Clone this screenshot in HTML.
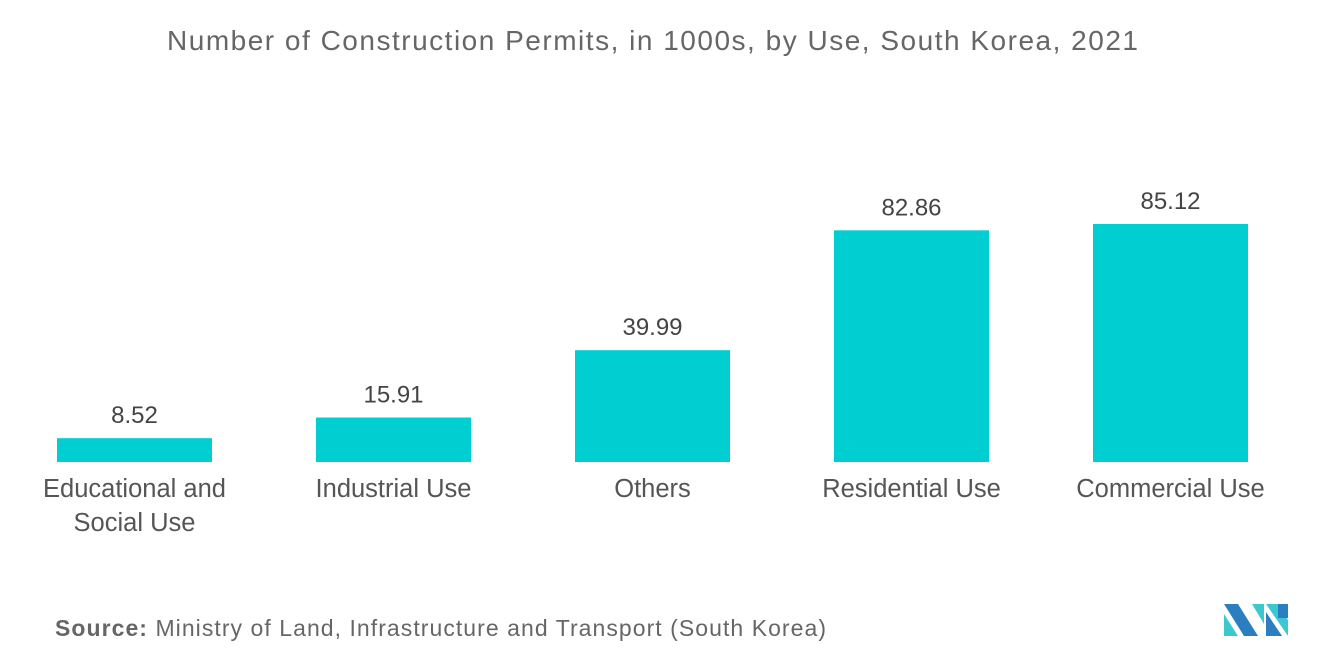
<!DOCTYPE html>
<html><head><meta charset="utf-8">
<style>
body{margin:0;width:1320px;height:665px;background:#fff;font-family:"Liberation Sans",sans-serif;overflow:hidden}
svg text{font-family:"Liberation Sans",sans-serif}
</style></head>
<body>
<svg id="chart" width="1320" height="665">
<text x="167" y="50" font-size="28" fill="#666" textLength="971" lengthAdjust="spacing">Number of Construction Permits, in 1000s, by Use,  South Korea, 2021</text>
<g id="bars"></g>
<text x="55" y="636" font-size="23" fill="#666" textLength="771" lengthAdjust="spacing"><tspan font-weight="bold">Source:</tspan>  Ministry of Land, Infrastructure and Transport (South Korea)</text>
<g>
<polygon points="1224,604 1238,604 1258,636 1244,636" fill="#2b7fc1"/>
<polygon points="1224,614 1238,636 1224,636" fill="#3cc8cf"/>
<polygon points="1252,604 1264,604 1264,624" fill="#3cc8cf"/>
<polygon points="1266,604 1278,604 1288,620 1288,636" fill="#3cc8cf"/>
<polygon points="1266,612 1282,636 1266,636" fill="#2b7fc1"/>
<rect x="1278" y="604" width="10" height="14" fill="#2b7fc1"/>
</g>
</svg>
<script>
const categories=[["Educational and","Social Use"],["Industrial Use"],["Others"],["Residential Use"],["Commercial Use"]];
const values=[8.52,15.91,39.99,82.86,85.12];
const labels=["8.52","15.91","39.99","82.86","85.12"];
const NS="http://www.w3.org/2000/svg";
const g=document.getElementById("bars");
const base=462,scale=2.796,x0=57,step=259,bw=155;
function y(v){return base-v*scale;}
function x(i){return x0+i*step;}
values.forEach((v,i)=>{
  const r=document.createElementNS(NS,"rect");
  r.setAttribute("x",x(i));r.setAttribute("y",y(v));
  r.setAttribute("width",bw);r.setAttribute("height",base-y(v));
  r.setAttribute("fill","#00ced1");
  
  
  g.appendChild(r);
  const t=document.createElementNS(NS,"text");
  t.setAttribute("x",x(i)+bw/2);t.setAttribute("y",y(v)-15);
  t.setAttribute("text-anchor","middle");t.setAttribute("font-size","24");t.setAttribute("fill","#444");
  t.textContent=labels[i];
  
  
  g.appendChild(t);
  categories[i].forEach((line,j)=>{
    const c=document.createElementNS(NS,"text");
    c.setAttribute("x",x(i)+bw/2);c.setAttribute("y",497+j*34);
    c.setAttribute("text-anchor","middle");c.setAttribute("font-size","25.5");c.setAttribute("fill","#555");
    c.textContent=line;
    
    
    g.appendChild(c);
  });
});
</script>
</body></html>
